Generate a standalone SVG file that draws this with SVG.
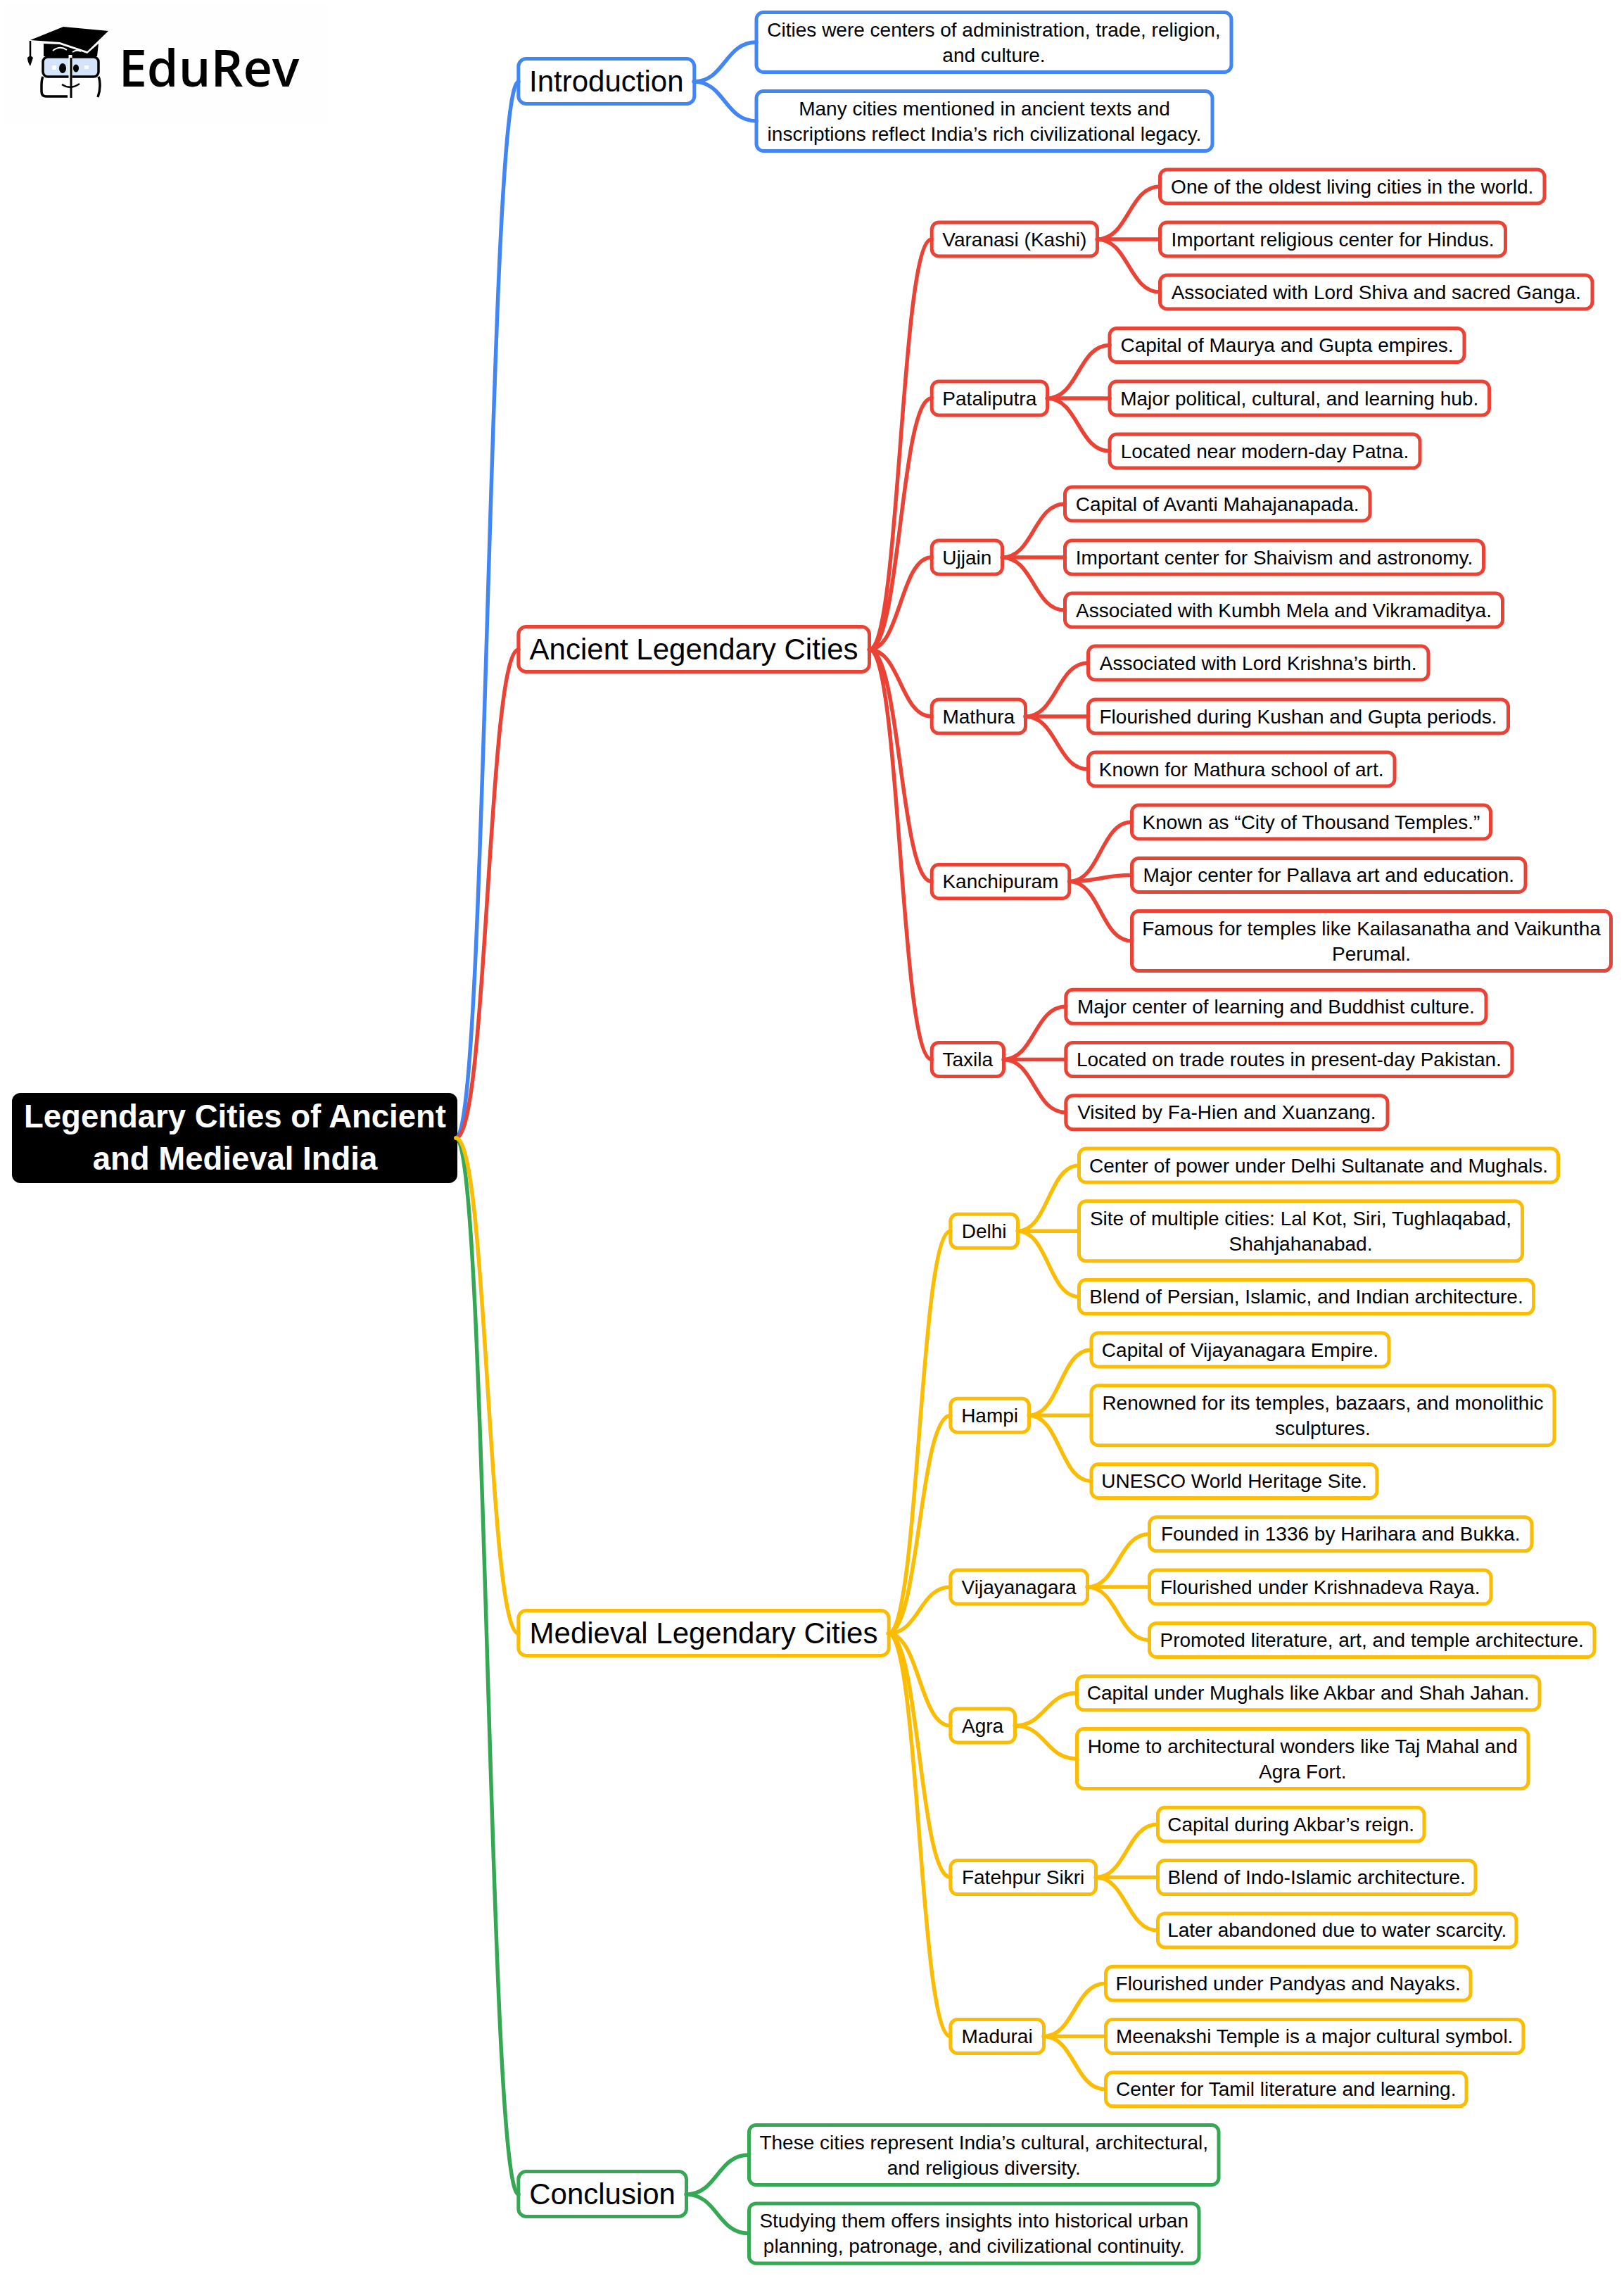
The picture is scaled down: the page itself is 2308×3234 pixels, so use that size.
<svg xmlns="http://www.w3.org/2000/svg" width="2308" height="3234" viewBox="0 0 2308 3234">
<style>
text{font-family:"Liberation Sans",Arial,sans-serif;fill:#000;text-anchor:middle}
.t3{font-size:28px}
.t1{font-size:42px}
.t0{font-size:45.5px;font-weight:700;fill:#fff}
rect{fill:#fff;stroke-width:5}
.b rect{stroke:#4285F4}
.r rect{stroke:#EA4335}
.y rect{stroke:#FBBC04}
.g rect{stroke:#34A853}
#links path{fill:none;stroke-width:5.5;stroke-linecap:round}
#links .b{stroke:#4285F4}
#links .r{stroke:#EA4335}
#links .y{stroke:#FBBC04}
#links .g{stroke:#34A853}
</style>
<rect width="2308" height="3234" style="fill:#fff;stroke:none"/>
<rect x="5" y="5" width="462" height="170" style="fill:#fefefe;stroke:none"/>
<g id="logo">
<path d="M43 57 90 38 154 44 124 73 85 60Z" fill="#000"/>
<path d="M62 62 85 63 124 76 140 62 138 80H62Z" fill="#000"/>
<path d="M43 58V80" stroke="#000" stroke-width="2.500" fill="none"/>
<path d="M39 82Q43 77 47 82L43 94Q39 88 39 82Z" fill="#000"/>
<path d="M75 72Q85 64 95 71M103 74Q109 70 115 73" stroke="#fff" stroke-width="2" fill="none"/>
<rect x="61" y="81" width="79" height="28" rx="7" style="fill:#d3e4fb;stroke:#000;stroke-width:3.500"/>
<path d="M61 109Q59 113 59 122V130Q59 137 66 137H96M140 109Q142 113 142 122Q142 130 139 138" stroke="#000" stroke-width="3.500" fill="none"/>
<path d="M100 78V139" stroke="#fff" stroke-width="5" fill="none"/>
<path d="M101 82V139" stroke="#000" stroke-width="3" fill="none"/>
<ellipse cx="89" cy="97" rx="5" ry="7" fill="#000"/>
<ellipse cx="108" cy="97" rx="4" ry="5.500" fill="#000"/>
<rect x="74" y="93" width="6" height="6" style="fill:#fff;stroke:none"/>
<rect x="120" y="93" width="6" height="5" style="fill:#fff;stroke:none"/>
<path d="M88 120Q100 128 113 119" stroke="#000" stroke-width="2.500" fill="none"/>
<text x="297" y="123" style="font-family:'Open Sans','Noto Sans',sans-serif;font-weight:600;font-size:72px">EduRev</text>
</g>
<g id="root"><rect x="17" y="1553" width="633" height="128" rx="12" style="fill:#000;stroke:none"/><text class="t0" x="334" y="1602">Legendary Cities of Ancient</text><text class="t0" x="334" y="1662">and Medieval India</text></g>

<g id="introduction" class="b"><rect x="736.800" y="83.500" width="250" height="64" rx="11"/><text class="t1" x="861.800" y="129.500">Introduction</text></g>
<g id="intro-1" class="b"><rect x="1075" y="17.500" width="675" height="85" rx="10"/><text class="t3" x="1412.500" y="51.500">Cities were centers of administration, trade, religion,</text><text class="t3" x="1412.500" y="87.500">and culture.</text></g>
<g id="intro-2" class="b"><rect x="1075" y="129.500" width="648" height="85" rx="10"/><text class="t3" x="1399" y="163.500">Many cities mentioned in ancient texts and</text><text class="t3" x="1399" y="199.500">inscriptions reflect India’s rich civilizational legacy.</text></g>

<g id="ancient" class="r"><rect x="736.800" y="890.500" width="498.700" height="64" rx="11"/><text class="t1" x="986.100" y="936.500">Ancient Legendary Cities</text></g>
<g id="varanasi" class="r"><rect x="1324.200" y="316" width="235.300" height="48" rx="10"/><text class="t3" x="1441.800" y="349.700">Varanasi (Kashi)</text></g>
<g id="varanasi-1" class="r"><rect x="1648.500" y="241" width="546.500" height="48" rx="10"/><text class="t3" x="1921.700" y="274.700">One of the oldest living cities in the world.</text></g>
<g id="varanasi-2" class="r"><rect x="1648.500" y="316" width="491" height="48" rx="10"/><text class="t3" x="1894" y="349.700">Important religious center for Hindus.</text></g>
<g id="varanasi-3" class="r"><rect x="1648.500" y="391" width="614.500" height="48" rx="10"/><text class="t3" x="1955.700" y="424.700">Associated with Lord Shiva and sacred Ganga.</text></g>

<g id="pataliputra" class="r"><rect x="1324.200" y="542" width="164.300" height="48" rx="10"/><text class="t3" x="1406.300" y="575.500">Pataliputra</text></g>
<g id="pataliputra-1" class="r"><rect x="1577" y="466.500" width="504" height="48" rx="10"/><text class="t3" x="1829" y="500">Capital of Maurya and Gupta empires.</text></g>
<g id="pataliputra-2" class="r"><rect x="1577" y="542" width="539.500" height="48" rx="10"/><text class="t3" x="1846.700" y="575.500">Major political, cultural, and learning hub.</text></g>
<g id="pataliputra-3" class="r"><rect x="1577" y="617" width="441" height="48" rx="10"/><text class="t3" x="1797.500" y="650.500">Located near modern-day Patna.</text></g>

<g id="ujjain" class="r"><rect x="1324.200" y="768" width="100.300" height="48" rx="10"/><text class="t3" x="1374.300" y="801.500">Ujjain</text></g>
<g id="ujjain-1" class="r"><rect x="1513.500" y="692" width="433.500" height="48" rx="10"/><text class="t3" x="1730.200" y="725.500">Capital of Avanti Mahajanapada.</text></g>
<g id="ujjain-2" class="r"><rect x="1513.500" y="768" width="595" height="48" rx="10"/><text class="t3" x="1811" y="801.500">Important center for Shaivism and astronomy.</text></g>
<g id="ujjain-3" class="r"><rect x="1513.500" y="843" width="622" height="48" rx="10"/><text class="t3" x="1824.500" y="876.500">Associated with Kumbh Mela and Vikramaditya.</text></g>

<g id="mathura" class="r"><rect x="1324.200" y="994" width="133.300" height="48" rx="10"/><text class="t3" x="1390.800" y="1027.500">Mathura</text></g>
<g id="mathura-1" class="r"><rect x="1546.500" y="918" width="483.500" height="48" rx="10"/><text class="t3" x="1788.200" y="951.500">Associated with Lord Krishna’s birth.</text></g>
<g id="mathura-2" class="r"><rect x="1546.500" y="994" width="597" height="48" rx="10"/><text class="t3" x="1845" y="1027.500">Flourished during Kushan and Gupta periods.</text></g>
<g id="mathura-3" class="r"><rect x="1546.500" y="1069" width="435.500" height="48" rx="10"/><text class="t3" x="1764.200" y="1102.500">Known for Mathura school of art.</text></g>

<g id="kanchipuram" class="r"><rect x="1324.200" y="1228.500" width="195.600" height="48" rx="10"/><text class="t3" x="1421.900" y="1262">Kanchipuram</text></g>
<g id="kanchipuram-1" class="r"><rect x="1608.500" y="1144" width="510" height="48" rx="10"/><text class="t3" x="1863.500" y="1177.500">Known as “City of Thousand Temples.”</text></g>
<g id="kanchipuram-2" class="r"><rect x="1608.500" y="1219.500" width="559.500" height="48" rx="10"/><text class="t3" x="1888.200" y="1253">Major center for Pallava art and education.</text></g>
<g id="kanchipuram-3" class="r"><rect x="1608.500" y="1294.500" width="681" height="85" rx="10"/><text class="t3" x="1949" y="1328.500">Famous for temples like Kailasanatha and Vaikuntha</text><text class="t3" x="1949" y="1364.500">Perumal.</text></g>

<g id="taxila" class="r"><rect x="1324.200" y="1481.400" width="102.300" height="48" rx="10"/><text class="t3" x="1375.300" y="1514.900">Taxila</text></g>
<g id="taxila-1" class="r"><rect x="1514.800" y="1406.300" width="597.200" height="48" rx="10"/><text class="t3" x="1813.400" y="1439.700">Major center of learning and Buddhist culture.</text></g>
<g id="taxila-2" class="r"><rect x="1514.800" y="1481.400" width="634.200" height="48" rx="10"/><text class="t3" x="1831.900" y="1514.900">Located on trade routes in present-day Pakistan.</text></g>
<g id="taxila-3" class="r"><rect x="1514.800" y="1556.700" width="457.200" height="48" rx="10"/><text class="t3" x="1743.400" y="1590.300">Visited by Fa-Hien and Xuanzang.</text></g>

<g id="medieval" class="y"><rect x="736.800" y="2288.500" width="526.400" height="64" rx="11"/><text class="t1" x="1000" y="2334.500">Medieval Legendary Cities</text></g>
<g id="delhi" class="y"><rect x="1350.800" y="1725.300" width="95.700" height="48" rx="10"/><text class="t3" x="1398.600" y="1758.800">Delhi</text></g>
<g id="delhi-1" class="y"><rect x="1533.500" y="1632" width="681" height="48" rx="10"/><text class="t3" x="1874" y="1665.500">Center of power under Delhi Sultanate and Mughals.</text></g>
<g id="delhi-2" class="y"><rect x="1533.500" y="1706.800" width="630" height="85" rx="10"/><text class="t3" x="1848.500" y="1740.800">Site of multiple cities: Lal Kot, Siri, Tughlaqabad,</text><text class="t3" x="1848.500" y="1776.800">Shahjahanabad.</text></g>
<g id="delhi-3" class="y"><rect x="1533.500" y="1818.600" width="646" height="48" rx="10"/><text class="t3" x="1856.500" y="1852.300">Blend of Persian, Islamic, and Indian architecture.</text></g>

<g id="hampi" class="y"><rect x="1350.800" y="1987.200" width="111.700" height="48" rx="10"/><text class="t3" x="1406.600" y="2020.700">Hampi</text></g>
<g id="hampi-1" class="y"><rect x="1551" y="1893.900" width="423" height="48" rx="10"/><text class="t3" x="1762.500" y="1927.500">Capital of Vijayanagara Empire.</text></g>
<g id="hampi-2" class="y"><rect x="1551" y="1968.700" width="658" height="85" rx="10"/><text class="t3" x="1880" y="2002.700">Renowned for its temples, bazaars, and monolithic</text><text class="t3" x="1880" y="2038.700">sculptures.</text></g>
<g id="hampi-3" class="y"><rect x="1551" y="2080.500" width="406" height="48" rx="10"/><text class="t3" x="1754" y="2114">UNESCO World Heritage Site.</text></g>

<g id="vijayanagara" class="y"><rect x="1350.800" y="2231.100" width="194.700" height="48" rx="10"/><text class="t3" x="1448.100" y="2264.600">Vijayanagara</text></g>
<g id="vijayanagara-1" class="y"><rect x="1633.500" y="2155.800" width="543.500" height="48" rx="10"/><text class="t3" x="1905.200" y="2189.300">Founded in 1336 by Harihara and Bukka.</text></g>
<g id="vijayanagara-2" class="y"><rect x="1633.500" y="2231.100" width="485.500" height="48" rx="10"/><text class="t3" x="1876.200" y="2264.600">Flourished under Krishnadeva Raya.</text></g>
<g id="vijayanagara-3" class="y"><rect x="1633.500" y="2306.400" width="632.500" height="48" rx="10"/><text class="t3" x="1949.700" y="2339.900">Promoted literature, art, and temple architecture.</text></g>

<g id="agra" class="y"><rect x="1350.800" y="2428" width="91.700" height="48" rx="10"/><text class="t3" x="1396.600" y="2461.500">Agra</text></g>
<g id="agra-1" class="y"><rect x="1530.500" y="2381.700" width="657.500" height="48" rx="10"/><text class="t3" x="1859.200" y="2415.200">Capital under Mughals like Akbar and Shah Jahan.</text></g>
<g id="agra-2" class="y"><rect x="1530.500" y="2456.500" width="641.500" height="85" rx="10"/><text class="t3" x="1851.200" y="2490.500">Home to architectural wonders like Taj Mahal and</text><text class="t3" x="1851.200" y="2526.500">Agra Fort.</text></g>

<g id="fatehpur" class="y"><rect x="1350.800" y="2643.600" width="206.700" height="48" rx="10"/><text class="t3" x="1454.100" y="2677.100">Fatehpur Sikri</text></g>
<g id="fatehpur-1" class="y"><rect x="1645.500" y="2568.300" width="378.500" height="48" rx="10"/><text class="t3" x="1834.700" y="2601.800">Capital during Akbar’s reign.</text></g>
<g id="fatehpur-2" class="y"><rect x="1645.500" y="2643.600" width="451.500" height="48" rx="10"/><text class="t3" x="1871.200" y="2677.100">Blend of Indo-Islamic architecture.</text></g>
<g id="fatehpur-3" class="y"><rect x="1645.500" y="2718.900" width="509.500" height="48" rx="10"/><text class="t3" x="1900.200" y="2752.400">Later abandoned due to water scarcity.</text></g>

<g id="madurai" class="y"><rect x="1350.800" y="2869.500" width="132.700" height="48" rx="10"/><text class="t3" x="1417.100" y="2903">Madurai</text></g>
<g id="madurai-1" class="y"><rect x="1571.500" y="2794.200" width="518.500" height="48" rx="10"/><text class="t3" x="1830.700" y="2827.700">Flourished under Pandyas and Nayaks.</text></g>
<g id="madurai-2" class="y"><rect x="1571.500" y="2869.500" width="593.500" height="48" rx="10"/><text class="t3" x="1868.200" y="2903">Meenakshi Temple is a major cultural symbol.</text></g>
<g id="madurai-3" class="y"><rect x="1571.500" y="2944.800" width="512.500" height="48" rx="10"/><text class="t3" x="1827.700" y="2978.300">Center for Tamil literature and learning.</text></g>

<g id="conclusion" class="g"><rect x="736.800" y="3085.500" width="238.700" height="64" rx="11"/><text class="t1" x="856.100" y="3131.500">Conclusion</text></g>
<g id="conclusion-1" class="g"><rect x="1064.500" y="3019.500" width="667.500" height="85" rx="10"/><text class="t3" x="1398.200" y="3053.500">These cities represent India’s cultural, architectural,</text><text class="t3" x="1398.200" y="3089.500">and religious diversity.</text></g>
<g id="conclusion-2" class="g"><rect x="1064.500" y="3130.900" width="639.500" height="85" rx="10"/><text class="t3" x="1384.200" y="3164.900">Studying them offers insights into historical urban</text><text class="t3" x="1384.200" y="3200.900">planning, patronage, and civilizational continuity.</text></g>

<g id="links">
<path class="b" d="M648 1617C693 1617 693 116 737 116"/>
<path class="r" d="M648 1617C693 1617 693 923 737 923"/>
<path class="g" d="M648 1617C693 1617 693 3118 737 3118"/>
<path class="y" d="M648 1617C693 1617 693 2321 737 2321"/>
<path class="b" d="M986 116C1030 116 1030 60 1075 60M986 116C1030 116 1030 172 1075 172"/>
<path class="r" d="M1235 923C1279.500 923 1279.500 340 1324 340M1235 923C1279.500 923 1279.500 566 1324 566M1235 923C1279.500 923 1279.500 792 1324 792M1235 923C1279.500 923 1279.500 1018 1324 1018M1235 923C1279.500 923 1279.500 1252.500 1324 1252.500M1235 923C1279.500 923 1279.500 1505.400 1324 1505.400"/>
<path class="y" d="M1262 2321C1306.500 2321 1306.500 1749.300 1351 1749.300M1262 2321C1306.500 2321 1306.500 2011.200 1351 2011.200M1262 2321C1306.500 2321 1306.500 2255 1351 2255M1262 2321C1306.500 2321 1306.500 2452 1351 2452M1262 2321C1306.500 2321 1306.500 2667.600 1351 2667.600M1262 2321C1306.500 2321 1306.500 2893.500 1351 2893.500"/>
<path class="g" d="M975 3118C1019.500 3118 1019.500 3062 1064 3062M975 3118C1019.500 3118 1019.500 3173.400 1064 3173.400"/>
<path class="r" d="M1559 340C1604 340 1604 265 1648.500 265M1559 340H1648.500M1559 340C1604 340 1604 415 1648.500 415"/>
<path class="r" d="M1488 566C1532.500 566 1532.500 490.500 1577 490.500M1488 566H1577M1488 566C1532.500 566 1532.500 641 1577 641"/>
<path class="r" d="M1424 792C1469 792 1469 716 1513.500 716M1424 792H1513.500M1424 792C1469 792 1469 867 1513.500 867"/>
<path class="r" d="M1457 1018C1502 1018 1502 942 1546.500 942M1457 1018H1546.500M1457 1018C1502 1018 1502 1093 1546.500 1093"/>
<path class="r" d="M1519.500 1252.500C1564 1252.500 1564 1168 1608.500 1168M1519.500 1252.500C1564 1252.500 1564 1243.500 1608.500 1243.500M1519.500 1252.500C1564 1252.500 1564 1337 1608.500 1337"/>
<path class="r" d="M1426 1505.400C1470 1505.400 1470 1430.300 1514.800 1430.300M1426 1505.400H1514.800M1426 1505.400C1470 1505.400 1470 1580.700 1514.800 1580.700"/>
<path class="y" d="M1446 1749.300C1490 1749.300 1490 1656 1533.500 1656M1446 1749.300H1533.500M1446 1749.300C1490 1749.300 1490 1842.600 1533.500 1842.600"/>
<path class="y" d="M1462 2011.200C1506.500 2011.200 1506.500 1917.900 1551 1917.900M1462 2011.200H1551M1462 2011.200C1506.500 2011.200 1506.500 2104.500 1551 2104.500"/>
<path class="y" d="M1545 2255.100C1589 2255.100 1589 2179.800 1633.500 2179.800M1545 2255.100H1633.500M1545 2255.100C1589 2255.100 1589 2330.400 1633.500 2330.400"/>
<path class="y" d="M1442 2452C1486 2452 1486 2405.700 1530.500 2405.700M1442 2452C1486 2452 1486 2499 1530.500 2499"/>
<path class="y" d="M1557 2667.600C1601 2667.600 1601 2592.300 1645.500 2592.300M1557 2667.600H1645.500M1557 2667.600C1601 2667.600 1601 2742.900 1645.500 2742.900"/>
<path class="y" d="M1483 2893.500C1527 2893.500 1527 2818.200 1571.500 2818.200M1483 2893.500H1571.500M1483 2893.500C1527 2893.500 1527 2968.800 1571.500 2968.800"/>
</g>
</svg>
